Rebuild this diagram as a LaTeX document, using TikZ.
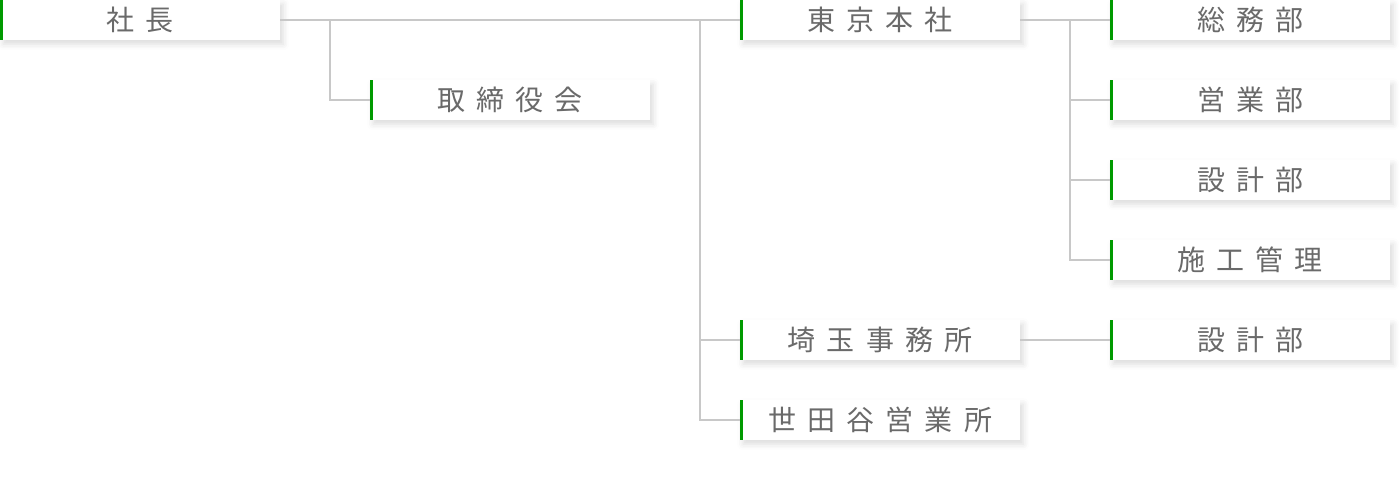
\documentclass[tikz,border=0pt]{standalone}
\usepackage{fontspec}
\newfontfamily\jpfont[LetterSpace=40]{Noto Sans CJK JP}
\usetikzlibrary{shadows.blur}
\definecolor{barGreen}{HTML}{009A00}
\definecolor{lineGray}{HTML}{C8C8C8}
\definecolor{textGray}{HTML}{6A6A6A}

\begin{document}
\begin{tikzpicture}[x=1pt, y=-1pt,
  unit/.style={rectangle, anchor=north west, minimum width=280pt, minimum height=40pt, inner sep=0pt,
    fill=white, blur shadow={shadow xshift=3pt, shadow yshift=-4pt, shadow blur radius=6pt, shadow opacity=14},
    text=textGray, font=\jpfont\fontsize{28pt}{32pt}\selectfont,
    path picture={\fill[barGreen] (path picture bounding box.north west) rectangle ([xshift=3pt]path picture bounding box.south west);}},
  link/.style={draw=lineGray, line width=1.5pt}]
\useasboundingbox (0,0) rectangle (1400,478);
% top level
\node[unit] (shacho) at (0,0) {社長};
\node[unit] (torishimari) at (370,80) {取締役会};
\node[unit] (honsha) at (740,0) {東京本社};
\node[unit] (saitama) at (740,320) {埼玉事務所};
\node[unit] (setagaya) at (740,400) {世田谷営業所};
% departments
\node[unit] (somu) at (1110,0) {総務部};
\node[unit] (eigyo) at (1110,80) {営業部};
\node[unit] (sekkei) at (1110,160) {設計部};
\node[unit] (seko) at (1110,240) {施工管理};
\node[unit] (sekkeiS) at (1110,320) {設計部};
% connectors
\draw[link] (shacho.east) -- (honsha.west);
\draw[link] (torishimari.west) -- ++(-40,0) |- (shacho.east);
\foreach \n in {saitama, setagaya}
  \draw[link] (\n.west) -- ++(-40,0) |- (honsha.west);
\draw[link] (honsha.east) -- (somu.west);
\foreach \n in {eigyo, sekkei, seko}
  \draw[link] (\n.west) -- ++(-40,0) |- (somu.west);
\draw[link] (saitama.east) -- (sekkeiS.west);
\end{tikzpicture}
\end{document}
